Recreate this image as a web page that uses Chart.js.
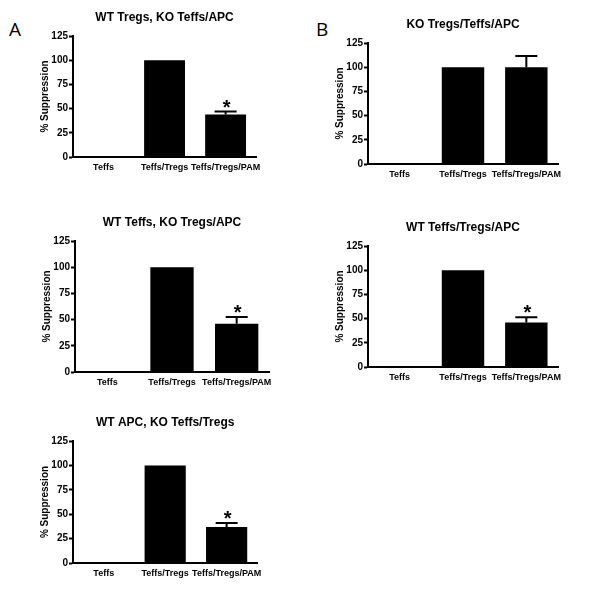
<!DOCTYPE html>
<html>
<head>
<meta charset="utf-8">
<script src="https://cdn.jsdelivr.net/npm/chart.js@4"></script>
<style>
  html, body { margin: 0; padding: 0; background: #fff; }
  body { width: 600px; height: 594px; position: relative; overflow: hidden; font-family: "Liberation Sans", Arial, sans-serif; }
  .panel { position: absolute; }
  .letter { position: absolute; font-family: "Open Sans", "Liberation Sans", sans-serif; font-size: 19px; color: #000; line-height: 1; }
</style>
</head>
<body>
<div class="letter" style="left:9px;top:20px;">A</div>
<div class="letter" style="left:316px;top:20px;">B</div>

<div class="panel" id="p1"><canvas id="c1"></canvas></div>
<div class="panel" id="p2"><canvas id="c2"></canvas></div>
<div class="panel" id="p3"><canvas id="c3"></canvas></div>
<div class="panel" id="p4"><canvas id="c4"></canvas></div>
<div class="panel" id="p5"><canvas id="c5"></canvas></div>

<script>
// ---- Data ----
const categories = ["Teffs", "Teffs/Tregs", "Teffs/Tregs/PAM"];
const yTicks = [0, 25, 50, 75, 100, 125];

const titleWTTregsKO = "WT Tregs, KO Teffs/APC";
const valuesWTTregsKO = [0, 100, 44];
const errorsWTTregsKO = [0, 0, 3];
const starsWTTregsKO = [false, false, true];

const titleKOAll = "KO Tregs/Teffs/APC";
const valuesKOAll = [0, 100, 100];
const errorsKOAll = [0, 0, 11.5];
const starsKOAll = [false, false, false];

const titleWTTeffsKO = "WT Teffs, KO Tregs/APC";
const valuesWTTeffsKO = [0, 100, 46];
const errorsWTTeffsKO = [0, 0, 6.5];
const starsWTTeffsKO = [false, false, true];

const titleWTAll = "WT Teffs/Tregs/APC";
const valuesWTAll = [0, 100, 46];
const errorsWTAll = [0, 0, 5.5];
const starsWTAll = [false, false, true];

const titleWTAPCKO = "WT APC, KO Teffs/Tregs";
const valuesWTAPCKO = [0, 100, 37];
const errorsWTAPCKO = [0, 0, 4];
const starsWTAPCKO = [false, false, true];

// ---- Layout (axis pixel positions in page) ----
const Y_AXIS_W = 40, X_AXIS_H = 25, TITLE_H = 26, PAD_R = 10;

const errorStarPlugin = {
  id: 'errorStar',
  afterDatasetsDraw(chart, args, opts) {
    const ctx = chart.ctx;
    const meta = chart.getDatasetMeta(0);
    const ys = chart.scales.y;
    const vals = chart.data.datasets[0].data;
    ctx.save();
    meta.data.forEach((bar, i) => {
      const err = opts.errors[i];
      let topY = bar.y;
      if (err > 0) {
        topY = ys.getPixelForValue(vals[i] + err);
        ctx.strokeStyle = '#000';
        ctx.lineWidth = 2;
        ctx.beginPath();
        ctx.moveTo(bar.x, bar.y);
        ctx.lineTo(bar.x, topY);
        ctx.moveTo(bar.x - 11, topY);
        ctx.lineTo(bar.x + 11, topY);
        ctx.stroke();
      }
      if (opts.stars[i]) {
        ctx.fillStyle = '#000';
        ctx.font = 'bold 20px "Liberation Sans", Arial, sans-serif';
        ctx.textAlign = 'center';
        ctx.textBaseline = 'alphabetic';
        ctx.fillText('*', bar.x + 1, topY - 10 + 12);
      }
    });
    ctx.restore();
  }
};

function makePanel(id, canvasId, title, values, errors, stars, x0, x1, yTop, yBot) {
  const div = document.getElementById(id);
  const w = Y_AXIS_W + (x1 - x0) + PAD_R;
  const h = TITLE_H + (yBot - yTop) + X_AXIS_H;
  div.style.left = (x0 - Y_AXIS_W) + 'px';
  div.style.top = (yTop - TITLE_H) + 'px';
  div.style.width = w + 'px';
  div.style.height = h + 'px';
  new Chart(document.getElementById(canvasId), {
    type: 'bar',
    data: {
      labels: categories,
      datasets: [{
        data: values,
        backgroundColor: '#000',
        borderColor: '#000',
        borderWidth: 0,
        categoryPercentage: 1.0,
        barPercentage: 0.67
      }]
    },
    options: {
      responsive: true,
      maintainAspectRatio: false,
      animation: false,
      devicePixelRatio: 1,
      layout: { padding: { top: 0, left: 0, right: PAD_R, bottom: 0 } },
      plugins: {
        legend: { display: false },
        tooltip: { enabled: false },
        title: {
          display: true,
          text: title,
          fullSize: false,
          color: '#000',
          font: { family: '"Liberation Sans", Arial, sans-serif', size: 12, weight: 'bold', lineHeight: 1.25 },
          padding: { top: 0, bottom: 11 }
        },
        errorStar: { errors: errors, stars: stars }
      },
      scales: {
        x: {
          grid: { display: false, drawTicks: false },
          border: { display: true, color: '#000', width: 2 },
          ticks: {
            color: '#000',
            padding: 5,
            maxRotation: 0,
            autoSkip: false,
            font: { family: '"Liberation Sans", Arial, sans-serif', size: 9, weight: 'bold' }
          },
          afterFit(scale) { scale.height = X_AXIS_H; }
        },
        y: {
          min: 0,
          max: 125,
          afterBuildTicks(scale) { scale.ticks = yTicks.map(v => ({ value: v })); },
          grid: { display: true, drawOnChartArea: false, drawTicks: true, tickLength: 4, tickColor: '#000', tickWidth: 2 },
          border: { display: true, color: '#000', width: 2 },
          ticks: {
            color: '#000',
            padding: 1,
            font: { family: '"Liberation Sans", Arial, sans-serif', size: 10, weight: 'bold' }
          },
          title: {
            display: true,
            text: '% Suppression',
            color: '#000',
            padding: { top: 6, bottom: 0 },
            font: { family: '"Liberation Sans", Arial, sans-serif', size: 10, weight: 'bold', lineHeight: 1.2 }
          },
          afterFit(scale) { scale.width = Y_AXIS_W; }
        }
      }
    },
    plugins: [errorStarPlugin]
  });
}

makePanel('p1', 'c1', titleWTTregsKO, valuesWTTregsKO, errorsWTTregsKO, starsWTTregsKO, 73, 257, 36, 157);
makePanel('p2', 'c2', titleKOAll, valuesKOAll, errorsKOAll, starsKOAll, 368, 558, 43, 164);
makePanel('p3', 'c3', titleWTTeffsKO, valuesWTTeffsKO, errorsWTTeffsKO, starsWTTeffsKO, 75, 269, 241, 372);
makePanel('p4', 'c4', titleWTAll, valuesWTAll, errorsWTAll, starsWTAll, 368, 558, 246, 367);
makePanel('p5', 'c5', titleWTAPCKO, valuesWTAPCKO, errorsWTAPCKO, starsWTAPCKO, 73, 258, 441, 563);
</script>
</body>
</html>
